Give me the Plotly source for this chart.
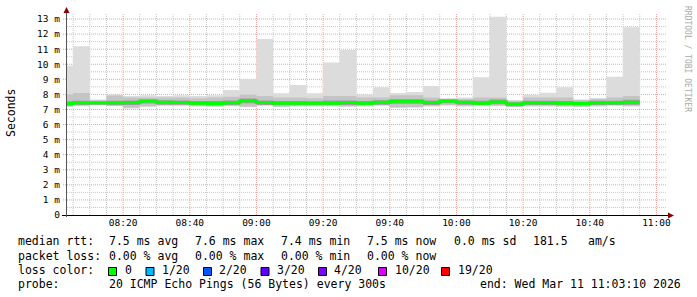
import plotly.graph_objects as go
import pandas as pd

# ---------------- data (5-minute bins, values in ms) ----------------
bin_start = pd.date_range("2026-03-11 08:00:00", periods=35, freq="5min")
bin_end = pd.Timestamp("2026-03-11 10:55:00")

rtt_min = [7.18, 7.22, 7.28, 7.23, 7.07, 7.18, 7.25, 7.24, 7.20, 7.18,
           7.22, 7.15, 7.25, 7.15, 7.20, 7.20, 7.22, 7.18, 7.20, 7.25,
           7.10, 7.12, 7.20, 7.25, 7.20, 7.25, 7.22, 7.15, 7.20, 7.20,
           7.18, 7.15, 7.20, 7.25, 7.20]
rtt_max = [9.90, 11.20, 7.67, 8.00, 7.90, 7.95, 7.90, 7.95, 7.90, 7.95,
           8.30, 9.00, 11.67, 8.07, 8.62, 8.07, 10.12, 10.94, 8.00, 8.47,
           8.10, 8.16, 8.55, 7.75, 7.80, 9.13, 13.15, 7.63, 7.98, 8.11,
           8.47, 7.67, 7.76, 9.17, 12.45]
mid_lo = [7.22, 7.26, 7.30, 7.26, 7.12, 7.22, 7.28, 7.28, 7.24, 7.22,
          7.25, 7.20, 7.28, 7.20, 7.24, 7.24, 7.26, 7.22, 7.24, 7.28,
          7.15, 7.16, 7.24, 7.30, 7.25, 7.28, 7.26, 7.20, 7.24, 7.24,
          7.22, 7.20, 7.24, 7.28, 7.24]
mid_hi = [8.00, 8.10, 7.62, 7.93, 7.80, 7.80, 7.80, 7.80, 7.75, 7.80,
          7.85, 8.00, 7.90, 7.80, 7.80, 7.74, 7.90, 7.90, 7.80, 7.80,
          7.95, 7.95, 7.80, 7.70, 7.70, 7.80, 7.80, 7.57, 7.80, 7.80,
          7.80, 7.63, 7.70, 7.80, 7.90]
inner_lo = [7.25, 7.30, 7.32, 7.28, 7.30, 7.40, 7.32, 7.32, 7.28, 7.26,
            7.30, 7.42, 7.30, 7.28, 7.28, 7.28, 7.28, 7.30, 7.28, 7.32,
            7.38, 7.38, 7.30, 7.42, 7.32, 7.28, 7.34, 7.22, 7.30, 7.30,
            7.28, 7.26, 7.30, 7.30, 7.32]
inner_hi = [7.55, 7.58, 7.52, 7.58, 7.60, 7.66, 7.62, 7.60, 7.56, 7.56,
            7.60, 7.72, 7.60, 7.56, 7.56, 7.54, 7.60, 7.60, 7.56, 7.62,
            7.68, 7.68, 7.60, 7.66, 7.60, 7.58, 7.66, 7.48, 7.58, 7.58,
            7.56, 7.52, 7.58, 7.58, 7.65]
median = [7.40, 7.44, 7.44, 7.44, 7.46, 7.56, 7.48, 7.46, 7.42, 7.40,
          7.45, 7.58, 7.46, 7.42, 7.42, 7.41, 7.42, 7.46, 7.42, 7.48,
          7.55, 7.55, 7.46, 7.57, 7.48, 7.42, 7.50, 7.36, 7.44, 7.44,
          7.42, 7.40, 7.44, 7.44, 7.48]

y_tick_vals = list(range(0, 14))
y_tick_text = ["0"] + [f"{v} m" for v in range(1, 14)]
y_minor_vals = [v + 0.5 for v in range(0, 13)]

x_major = list(pd.date_range("2026-03-11 08:20:00", "2026-03-11 11:00:00", freq="20min"))
x_minor = [t for t in pd.date_range("2026-03-11 08:05:00", "2026-03-11 11:00:00", freq="5min")
           if t not in set(x_major)]

loss_labels = ["0", "1/20", "2/20", "3/20", "4/20", "10/20", "19/20"]
loss_colors = ["#00ff00", "#00b8ff", "#0059ff", "#5e00ff", "#7e00ff", "#dd00ff", "#ff0000"]
loss_text_x = [123, 160, 217, 275, 332, 393, 456]

x_start = "2026-03-11 08:03:10"
x_end = "2026-03-11 11:03:10"

# ---------------- geometry helpers ----------------
W, H = 697, 297
L, R, T, B = 67, 30, 13, 82
PW, PH = W - L - R, H - T - B
def px(x):
    return (x - L) / PW
def py(y):
    return (H - B - y) / PH

MONO = "DejaVu Sans Mono"
MAJOR = "#f0a0a0"
MINOR = "#c8c8c8"
DOTS = "1px,1px"

xs = list(bin_start) + [bin_end]
def ext(a):
    return list(a) + [a[-1]]

fig = go.Figure()

def band(lo, hi, color):
    fig.add_trace(go.Scatter(x=xs, y=ext(lo), mode="lines", line=dict(width=0, shape="hv"),
                             hoverinfo="skip", showlegend=False))
    fig.add_trace(go.Scatter(x=xs, y=ext(hi), mode="lines", line=dict(width=0, shape="hv"),
                             fill="tonexty", fillcolor=color, hoverinfo="skip", showlegend=False))

band(rtt_min, rtt_max, "#dcdcdc")
band(mid_lo, mid_hi, "#c4c4c4")
band(inner_lo, inner_hi, "#9c9c9c")
fig.add_trace(go.Scatter(x=xs, y=ext(median), mode="lines",
                         line=dict(color="#00ff00", width=3, shape="hv"),
                         showlegend=False))

fig.update_xaxes(
    type="date", range=[x_start, x_end],
    tickmode="array", tickvals=x_major, ticktext=[t.strftime("%H:%M") for t in x_major],
    showgrid=False,
    tickfont=dict(family=MONO, size=9.5, color="#000"),
    showline=False, zeroline=False, ticks="", fixedrange=True,
)
fig.update_yaxes(
    range=[0, 13.4], tickmode="array", tickvals=y_tick_vals, ticktext=y_tick_text,
    showgrid=False,
    tickfont=dict(family=MONO, size=9.5, color="#000"),
    showline=False, zeroline=False, ticks="", ticklabelstandoff=6, fixedrange=True,
)

shapes = []
# grid (drawn below the data, dotted like rrdtool)
for t in x_minor:
    shapes.append(dict(type="line", xref="x", yref="paper", x0=t, x1=t, y0=0, y1=1,
                       layer="below", line=dict(color=MINOR, width=1, dash=DOTS)))
for t in x_major:
    shapes.append(dict(type="line", xref="x", yref="paper", x0=t, x1=t, y0=0, y1=1,
                       layer="below", line=dict(color=MAJOR, width=1, dash=DOTS)))
for v in y_minor_vals:
    shapes.append(dict(type="line", xref="paper", yref="y", x0=0, x1=1, y0=v, y1=v,
                       layer="below", line=dict(color=MINOR, width=1, dash=DOTS)))
for v in y_tick_vals[1:]:
    shapes.append(dict(type="line", xref="paper", yref="y", x0=px(63), x1=1, y0=v, y1=v,
                       layer="below", line=dict(color=MAJOR, width=1, dash=DOTS)))
# axes
shapes.append(dict(type="line", xref="paper", yref="paper", x0=px(62), x1=px(668),
                   y0=py(215.5), y1=py(215.5), line=dict(color="#000", width=1)))
shapes.append(dict(type="line", xref="paper", yref="paper", x0=px(66.5), x1=px(66.5),
                   y0=py(217), y1=py(12), line=dict(color="#555", width=1)))
# arrows
shapes.append(dict(type="path", xref="paper", yref="paper",
                   path=f"M {px(63.5)} {py(13)} L {px(69.5)} {py(13)} L {px(66.5)} {py(7)} Z",
                   fillcolor="#8b0000", line=dict(width=0)))
shapes.append(dict(type="path", xref="paper", yref="paper",
                   path=f"M {px(668)} {py(212.5)} L {px(668)} {py(218.5)} L {px(674)} {py(215.5)} Z",
                   fillcolor="#8b0000", line=dict(width=0)))
# loss colour swatches
box_x = [108.5, 146, 203.5, 261, 318.5, 378.5, 441.5]
for bx, c in zip(box_x, loss_colors):
    shapes.append(dict(type="rect", xref="paper", yref="paper",
                       x0=px(bx), x1=px(bx + 8), y0=py(275.5), y1=py(267.5),
                       fillcolor=c, line=dict(color="#000", width=1)))
fig.update_layout(shapes=shapes)

ann = []
def text(x, y, s, size=11.5, color="#000", angle=0, xanchor="left"):
    ann.append(dict(x=px(x), y=py(y), xref="paper", yref="paper", text=s, showarrow=False,
                    xanchor=xanchor, yanchor="middle", textangle=angle,
                    font=dict(family=MONO, size=size, color=color)))

# legend rows
row = [241, 255.5, 270, 284]
text(16, row[0], "median rtt:")
for x, s in zip([107, 193, 279, 365, 451.5, 530.5, 586],
                ["7.5 ms avg", "7.6 ms max", "7.4 ms min", "7.5 ms now", "0.0 ms sd", "181.5", "am/s"]):
    text(x, row[0], s)
text(16, row[1], "packet loss:")
for x, s in zip([107, 193, 279, 365],
                ["0.00 % avg", "0.00 % max", "0.00 % min", "0.00 % now"]):
    text(x, row[1], s)
text(16, row[2], "loss color:")
for x, s in zip(loss_text_x, loss_labels):
    text(x, row[2], s)
text(16, row[3], "probe:")
text(107, row[3], "20 ICMP Echo Pings (56 Bytes) every 300s")
text(478, row[3], "end: Wed Mar 11 11:03:10 2026")

# axis title and watermark
text(11, 113, "Seconds", size=11.5, angle=-90, xanchor="center")
text(687, 59, "RRDTOOL / TOBI OETIKER", size=8, color="#aaaaaa", angle=90, xanchor="center")

fig.update_layout(
    annotations=ann,
    width=W, height=H,
    margin=dict(l=L, r=R, t=T, b=B),
    plot_bgcolor="white", paper_bgcolor="white",
    showlegend=False,
)

fig.write_html("out.html", config={"displayModeBar": False})
